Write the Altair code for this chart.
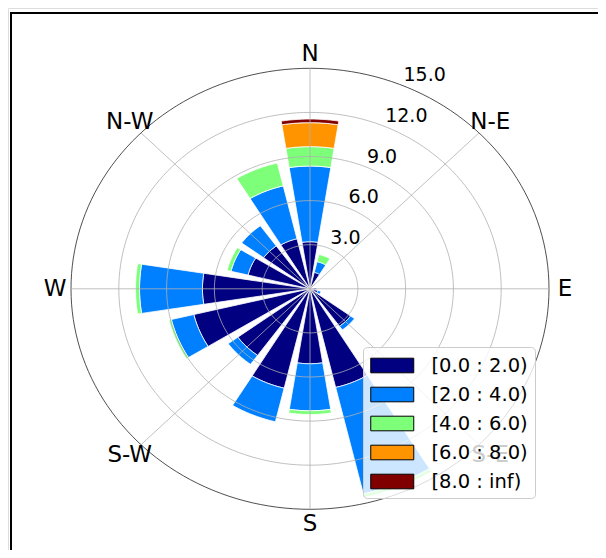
import math
import numpy as np
import pandas as pd
import altair as alt

# ---------------- data ----------------
directions = ["N", "NNE", "NE", "ENE", "E", "ESE", "SE", "SSE",
              "S", "SSW", "SW", "WSW", "W", "WNW", "NW", "NNW"]
bins = ["[0.0 : 2.0)", "[2.0 : 4.0)", "[4.0 : 6.0)", "[6.0 : 8.0)", "[8.0 : inf)"]
colors = ["#000080", "#0080ff", "#7dff7a", "#ff9400", "#800000"]

v_0_2 = [3.2, 1.15, 0, 0, 0.4, 0.5, 3.15, 6.9, 5.1, 6.95, 5.6, 7.5, 6.75, 4.0, 3.6, 3.5]
v_2_4 = [5.15, 0.75, 0, 0, 0, 0.2, 0.3, 7.45, 3.2, 2.35, 0.75, 1.45, 3.95, 1.1, 1.7, 3.7]
v_4_6 = [1.32, 0.5, 0, 0, 0, 0, 0, 0.25, 0.25, 0, 0, 0.15, 0.25, 0.25, 0, 1.6]
v_6_8 = [1.63, 0, 0, 0, 0, 0, 0, 0, 0, 0, 0, 0, 0, 0, 0, 0]
v_8_inf = [0.25, 0, 0, 0, 0, 0, 0, 0, 0, 0, 0, 0, 0, 0, 0, 0]

ring_ticks = [3, 6, 9, 12, 15]
ring_labels = ["3.0", "6.0", "9.0", "12.0", "15.0"]
compass_labels = ["N", "N-E", "E", "S-E", "S", "S-W", "W", "N-W"]

RMAX = 15
OPENING = 0.8  # fraction of the sector used by each bar

# ---------------- derived tables ----------------
series = [v_0_2, v_2_4, v_4_6, v_6_8, v_8_inf]
sector = 360.0 / len(directions)
half = sector * OPENING / 2

rows = []
seg = 0
for i, d in enumerate(directions):
    theta = i * sector
    cum = 0.0
    for k, vals in enumerate(series):
        v = vals[i]
        if v <= 0:
            continue
        r_in, r_out = cum, cum + v
        cum = r_out
        angs = np.linspace(theta - half, theta + half, 15)
        pts = [(r_out, a) for a in angs] + [(r_in, a) for a in angs[::-1]]
        for j, (r, a) in enumerate(pts):
            rad = math.radians(a)
            rows.append({"seg": seg, "idx": j, "bin": bins[k], "dir": d,
                         "x": r * math.sin(rad), "y": r * math.cos(rad)})
        seg += 1
bars_df = pd.DataFrame(rows)

ring_rows = []
for r in ring_ticks:
    for j, a in enumerate(np.arange(0, 361, 2)):
        rad = math.radians(a)
        ring_rows.append({"ring": r, "idx": j, "x": r * math.sin(rad), "y": r * math.cos(rad),
                          "outer": r == RMAX})
rings_df = pd.DataFrame(ring_rows)

spoke_df = pd.DataFrame([{"x": 0.0, "y": 0.0,
                          "x2": RMAX * math.sin(math.radians(a)),
                          "y2": RMAX * math.cos(math.radians(a))}
                         for a in range(0, 360, 45)])

LR = 16.0
dirlab_df = pd.DataFrame([{"label": lab,
                           "x": LR * math.sin(math.radians(45 * i)),
                           "y": LR * math.cos(math.radians(45 * i))}
                          for i, lab in enumerate(compass_labels)])

RA = 22.5
radlab_df = pd.DataFrame([{"label": lab,
                           "x": r * math.sin(math.radians(RA)),
                           "y": r * math.cos(math.radians(RA))}
                          for r, lab in zip(ring_ticks, ring_labels)])

# ---------------- scales ----------------
xs = alt.Scale(domain=[-RMAX, RMAX], range=[63, 541], nice=False, zero=False)
ys = alt.Scale(domain=[-RMAX, RMAX], range=[501.3, 60.3], nice=False, zero=False)
X = lambda f="x": alt.X(f"{f}:Q", scale=xs, axis=None)
Y = lambda f="y": alt.Y(f"{f}:Q", scale=ys, axis=None)

legend = alt.Legend(
    title=None, orient="none", legendX=355, legendY=339,
    fillColor="rgba(255,255,255,0.8)", strokeColor="#cccccc", cornerRadius=4,
    padding=7, symbolType="M-1,-0.68H3V0.68H-1Z", symbolSize=462.25,
    symbolStrokeColor="black", symbolStrokeWidth=1, symbolOpacity=1,
    labelFontSize=19.5, labelFont="DejaVu Sans", labelColor="black",
    labelOffset=38.5, rowPadding=8, zindex=1,
)

bars = alt.Chart(bars_df).mark_line(
    filled=True, stroke="white", strokeWidth=0.8, interpolate="linear-closed"
).encode(
    x=X(), y=Y(),
    fill=alt.Fill("bin:N", scale=alt.Scale(domain=bins, range=colors), legend=legend),
    detail="seg:N",
    order="idx:Q",
)

rings = alt.Chart(rings_df).mark_line(strokeWidth=0.8).encode(
    x=X(), y=Y(), detail="ring:N", order="idx:Q",
    color=alt.condition("datum.outer", alt.value("#222222"), alt.value("#b0b0b0")),
)

spokes = alt.Chart(spoke_df).mark_rule(color="#b0b0b0", strokeWidth=0.8).encode(
    x=X(), y=Y(), x2="x2:Q", y2="y2:Q"
)

dirlabels = alt.Chart(dirlab_df).mark_text(
    fontSize=23, font="DejaVu Sans", color="black", align="center", baseline="middle"
).encode(x=X(), y=Y(), text="label:N")

radlabels = alt.Chart(radlab_df).mark_text(
    fontSize=19, font="DejaVu Sans", color="black", align="left",
    baseline="alphabetic", dx=2, dy=-4
).encode(x=X(), y=Y(), text="label:N")

frame_left = alt.Chart(pd.DataFrame({"a": [0]})).mark_rule(color="black", strokeWidth=2).encode(
    x=alt.value(3), y=alt.value(5), y2=alt.value(560))
frame_top = alt.Chart(pd.DataFrame({"a": [0]})).mark_rule(color="black", strokeWidth=2).encode(
    x=alt.value(2), x2=alt.value(600), y=alt.value(5))

chart = alt.layer(
    bars, rings, spokes, radlabels, dirlabels, frame_left, frame_top
).properties(
    width=590, height=542,
    autosize=alt.AutoSizeParams(type="none"),
    padding=0,
).configure_view(stroke=None).configure(font="DejaVu Sans")

chart.save("out.html", embed_options={"renderer": "svg", "actions": False})
